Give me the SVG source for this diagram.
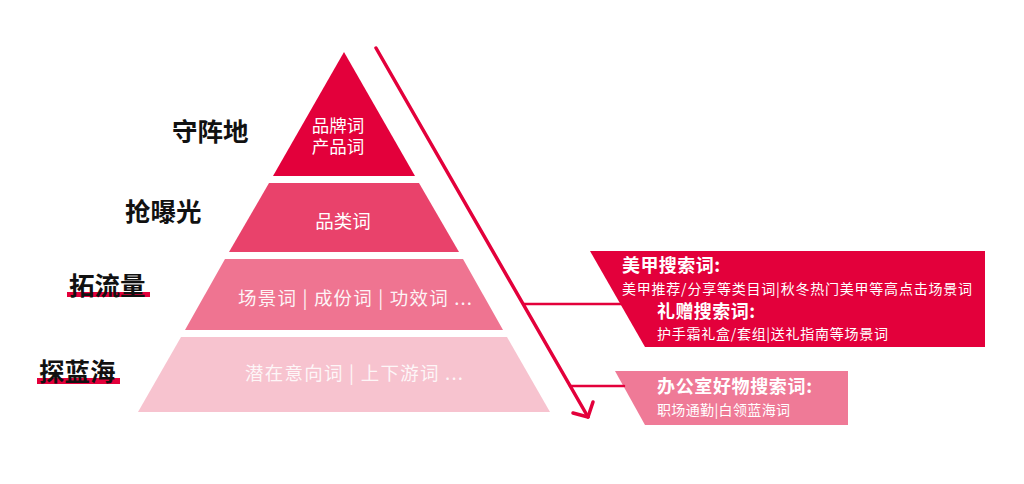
<svg xmlns="http://www.w3.org/2000/svg" width="1024" height="484" viewBox="0 0 1024 484">
<style>
.lbl{font-family:"Noto Sans CJK SC","Noto Sans",sans-serif;font-weight:bold;font-size:25.5px;fill:#111}
.tier{font-family:"Noto Sans CJK SC","Noto Sans",sans-serif;font-size:18.5px;fill:#fff}
.t1{font-family:"Noto Sans CJK SC","Noto Sans",sans-serif;font-size:17.5px;fill:#fff}
.bh{font-family:"Noto Sans CJK SC","Noto Sans",sans-serif;font-weight:bold;font-size:18px;fill:#fff}
.bs{font-family:"Noto Sans CJK SC","Noto Sans",sans-serif;font-size:14px;fill:#fff}
.conn{fill:none;stroke:#e3003b;stroke-linecap:round;stroke-linejoin:round}
</style>
<rect width="1024" height="484" fill="#fff"/>
<g id="label-shouzhendi"><text class="lbl" x="172" y="141">守阵地</text></g>
<g id="label-qiangbaoguang"><text class="lbl" x="125" y="221">抢曝光</text></g>
<g id="label-tuoliuliang"><rect x="67" y="292" width="83" height="5" fill="#e3003b"/><text class="lbl" x="69" y="295">拓流量</text></g>
<g id="label-tanlanhai"><rect x="37" y="378" width="83" height="6" fill="#e3003b"/><text class="lbl" x="39" y="381">探蓝海</text></g>
<g id="tier1"><polygon points="344,52 415,176 273,176" fill="#e3003b"/><text class="t1" text-anchor="middle"><tspan x="338" y="132">品牌词</tspan><tspan x="338" y="153">产品词</tspan></text></g>
<g id="tier2"><polygon points="269,183 419,183 459,252 229,252" fill="#e9426b"/><text class="tier" x="343" y="228" text-anchor="middle">品类词</text></g>
<g id="tier3"><polygon points="225,259 463,259 503,330 185,330" fill="#ef7491"/><text class="tier" x="238" y="305" textLength="234" opacity="0.92">场景词 | 成份词 | 功效词 ...</text></g>
<g id="tier4"><polygon points="181,337 507,337 550,412 138,412" fill="#f7c3cf"/><text class="tier" x="245" y="380" textLength="218" opacity="0.85">潜在意向词 | 上下游词 ...</text></g>
<g id="box1"><polygon points="590,251 985,251 985,347 645,347" fill="#e3003b"/>
<text class="bh" x="622" y="272" textLength="98">美甲搜索词:</text>
<text class="bs" x="622" y="294" textLength="350">美甲推荐/分享等类目词|秋冬热门美甲等高点击场景词</text>
<text class="bh" x="657" y="318" textLength="98">礼赠搜索词:</text>
<text class="bs" x="657" y="339" textLength="231">护手霜礼盒/套组|送礼指南等场景词</text></g>
<g id="box2"><polygon points="615,371 848,371 848,425 645,425" fill="#ef7a97"/>
<text class="bh" x="657" y="393" textLength="155">办公室好物搜索词:</text>
<text class="bs" x="657" y="415" textLength="133">职场通勤|白领蓝海词</text></g>
<g id="connectors">
<line class="conn" x1="376" y1="48" x2="588" y2="417" stroke-width="3.5"/>
<polyline class="conn" points="573,413 588,417 593,402" stroke-width="3.5"/>
<line class="conn" x1="524" y1="304" x2="622" y2="304" stroke-width="2.5"/>
<line class="conn" x1="570" y1="386" x2="624" y2="386" stroke-width="2.5" stroke="#e8355f"/>
</g>
</svg>
